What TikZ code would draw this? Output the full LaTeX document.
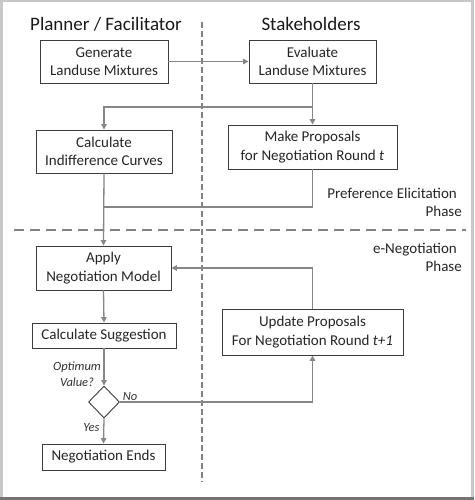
\documentclass[tikz,border=0pt]{standalone}
\usepackage{fontspec}
\setmainfont{Carlito}
\usetikzlibrary{shapes.geometric,arrows.meta}
\definecolor{lineg}{RGB}{135,135,135}
\definecolor{boxg}{RGB}{60,60,60}
\definecolor{frameg}{RGB}{200,200,200}
\definecolor{dashg}{RGB}{130,130,130}
\begin{document}
\begin{tikzpicture}[x=1pt,y=-1pt,
  box/.style={draw=boxg,line width=0.9pt,fill=white,align=center,inner sep=2pt,
    font=\fontsize{15}{18.5}\selectfont,text=black!85},
  conn/.style={draw=lineg,line width=1.3pt,-{Triangle[length=5.5pt,width=5.5pt]}},
  plain/.style={draw=lineg,line width=1.3pt},
  sep/.style={draw=dashg,line width=2.5pt},
  lab/.style={font=\fontsize{12.5}{16}\selectfont\itshape,text=black!80,inner sep=0pt},
  phase/.style={font=\fontsize{15}{18}\selectfont,text=black!85,align=right,inner sep=0pt,anchor=north east},
  head/.style={font=\fontsize{19}{22}\selectfont,text=black!90,inner sep=0pt}]
% frame
\fill[frameg] (0,0) rectangle (474,500);
\fill[white] (3,2) rectangle (471,497);
\fill[black!55] (0,497) rectangle (474,500);
\useasboundingbox (0,0) rectangle (474,500);
% separators
\draw[sep,dash pattern=on 6pt off 3pt] (202,22) -- (202,482);
\draw[sep,dash pattern=on 10pt off 6pt] (14,230) -- (466,230);
% headers
\node[head] (h1) at (106,24) {Planner / Facilitator};
\node[head] (h2) at (311,24) {Stakeholders};
% phases
\node[phase] (p1) at (462,188) {Preference Elicitation\hspace*{5pt}\\Phase};
\node[phase] (p2) at (462,243) {e-Negotiation\hspace*{5pt}\\Phase};
% boxes
\node[box,minimum width=128pt,minimum height=43pt] (gen) at (104,61.5) {Generate\\Landuse Mixtures};
\node[box,minimum width=127pt,minimum height=43pt] (eval) at (312.5,61.5) {Evaluate\\Landuse Mixtures};
\node[box,minimum width=136pt,minimum height=43pt] (ind) at (104,151.5) {Calculate\\Indifference Curves};
\node[box,minimum width=169pt,minimum height=44pt] (prop) at (312.5,147) {Make Proposals\\for Negotiation Round \textit{t}};
\node[box,minimum width=135pt,minimum height=44pt] (apply) at (103.5,268) {Apply\\Negotiation Model};
\node[box,minimum width=144pt,minimum height=25pt] (sugg) at (104,335.5) {Calculate Suggestion};
\node[box,minimum width=181pt,minimum height=46pt] (upd) at (312.5,332) {Update Proposals\\For Negotiation Round \textit{t+1}};
\node[diamond,draw=boxg,line width=0.9pt,minimum width=31pt,minimum height=32pt,inner sep=0pt] (dia) at (104,402) {};
\node[box,minimum width=123pt,minimum height=26pt] (ends) at (103.5,457) {Negotiation Ends};
% junctions
\coordinate (j1) at (312.5,107);
\coordinate (j2) at (104,207);
% connectors
\draw[conn] (gen.east) -- (eval.west);
\draw[conn] (eval.south) -- (prop.north);
\draw[conn] (j1) -| (ind.north);
\draw[conn] (ind.south) -- (apply.north);
\draw[plain] (prop.south) |- (j2);
\draw[conn] (upd.north) |- (apply.east);
\draw[conn] (apply.south) -- (sugg.north);
\draw[conn] (sugg.south) -- (dia.north);
\draw[conn] (dia.east) -| (upd.south);
\draw[conn] (dia.south) -- (ends.north);
% labels
\node[lab,align=center] (q) at (77,374) {Optimum\\Value?};
\node[lab] (no) at (130,397) {No};
\node[lab] (yes) at (91.5,428) {Yes};
\end{tikzpicture}
\end{document}
